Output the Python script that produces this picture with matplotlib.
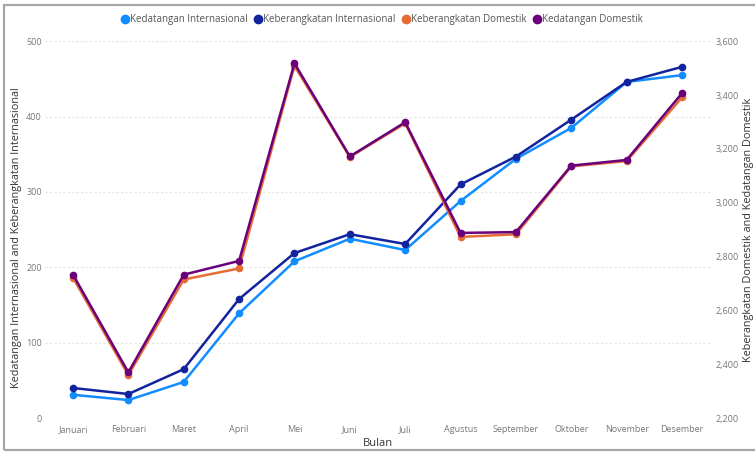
import matplotlib
matplotlib.use("Agg")
import matplotlib.pyplot as plt
from matplotlib.lines import Line2D
from matplotlib.patches import Rectangle
from matplotlib.ticker import FuncFormatter

# data
bulan = ["Januari", "Februari", "Maret", "April", "Mei", "Juni", "Juli",
         "Agustus", "September", "Oktober", "November", "Desember"]
kedatangan_int = [31, 24, 48, 139, 208, 238, 223, 288, 344, 385, 446, 455]
keberangkatan_int = [40, 32, 65, 158, 219, 244, 231, 310, 347, 396, 446, 466]
keberangkatan_dom = [2722, 2360, 2715, 2756, 3509, 3170, 3295, 2873, 2883, 3135, 3155, 3391]
kedatangan_dom = [2733, 2370, 2733, 2784, 3518, 3172, 3299, 2888, 2891, 3138, 3159, 3407]

c_kint = "#118DFF"
c_bint = "#12239E"
c_bdom = "#E66C37"
c_kdom = "#6B007B"

plt.rcParams["font.family"] = ["Open Sans", "DejaVu Sans"]

fig = plt.figure(figsize=(7.55, 4.58), dpi=100)
ax = fig.add_axes([0.060, 0.087, 0.880, 0.823])
ax2 = ax.twinx()

x = list(range(len(bulan)))
ax.plot(x, kedatangan_int, color=c_kint, lw=1.8, marker="o", ms=4.5)
ax.plot(x, keberangkatan_int, color=c_bint, lw=1.8, marker="o", ms=4.5)
ax2.plot(x, keberangkatan_dom, color=c_bdom, lw=1.8, marker="o", ms=4.5)
ax2.plot(x, kedatangan_dom, color=c_kdom, lw=1.8, marker="o", ms=4.5)

ax.set_xlim(-0.5, len(bulan) - 0.5)
ax.set_ylim(0, 500)
ax2.set_ylim(2200, 3600)
ax.set_yticks(range(0, 501, 100))
ax2.set_yticks(range(2200, 3601, 200))
ax2.yaxis.set_major_formatter(FuncFormatter(lambda v, p: f"{int(v):,}"))
ax.set_xticks(x)
ax.set_xticklabels(bulan)

for a in (ax, ax2):
    for s in a.spines.values():
        s.set_visible(False)
    a.tick_params(length=0, labelsize=6.5, labelcolor="#777777")
ax.tick_params(axis="y", pad=2.5)
ax2.tick_params(axis="y", pad=4)
ax.tick_params(axis="x", pad=5)

ax.grid(axis="y", color="#e4e4e4", linestyle=(0, (2, 2)), lw=0.8)
ax.set_axisbelow(True)

ax.set_xlabel("Bulan", fontsize=8, color="#333333", labelpad=3)
ax.set_ylabel("Kedatangan Internasional and Keberangkatan Internasional",
              fontsize=7.8, color="#333333")
ax.yaxis.set_label_coords(-0.035, 0.48)
ax2.set_ylabel("Keberangkatan Domestik and Kedatangan Domestik",
               fontsize=7.8, color="#333333")
ax2.yaxis.set_label_coords(1.050, 0.5)

handles = [Line2D([], [], color=c, marker="o", ls="none", ms=6)
           for c in (c_kint, c_bint, c_bdom, c_kdom)]
labels = ["Kedatangan Internasional", "Keberangkatan Internasional",
          "Keberangkatan Domestik", "Kedatangan Domestik"]
fig.legend(handles, labels, loc="center", bbox_to_anchor=(0.505, 0.957), ncol=4,
           frameon=False, fontsize=7, labelcolor="#555555",
           handletextpad=0.0, columnspacing=0.6, handlelength=1.0)

# border around the visual
fig.patches.append(Rectangle((0.005, 0.017), 1.2, 0.972, transform=fig.transFigure,
                             fill=False, edgecolor="#a6a6a6", lw=1.6))

fig.savefig("out.png", dpi=100)
